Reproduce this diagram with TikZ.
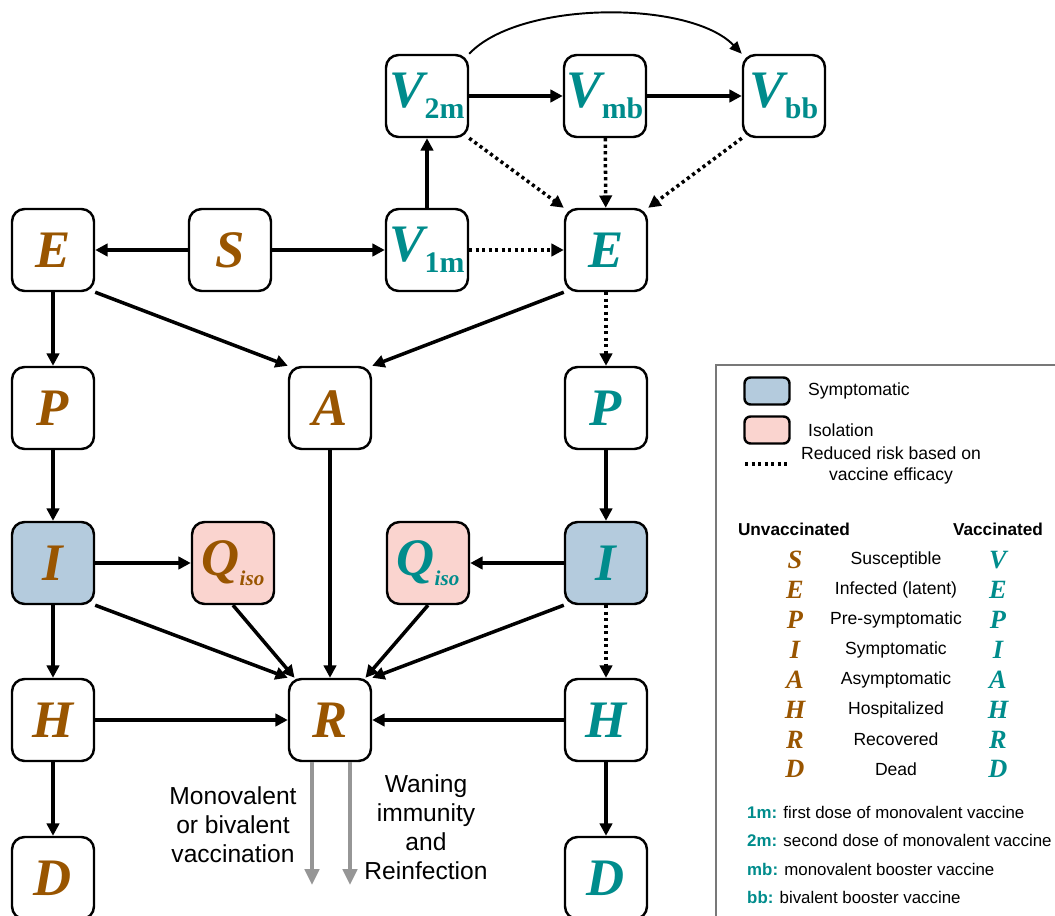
\documentclass[tikz,border=0pt]{standalone}
\usepackage{fontspec}
\setmainfont{Liberation Serif}
\newfontfamily\lsans{Liberation Sans}
\usetikzlibrary{arrows.meta}
\definecolor{unvbrown}{RGB}{153,85,0}
\definecolor{vacteal}{RGB}{0,140,140}
\definecolor{symblue}{RGB}{180,203,221}
\definecolor{isopink}{RGB}{250,212,207}
\definecolor{framegray}{RGB}{120,120,120}
\definecolor{flowgray}{RGB}{150,150,150}
\newcommand{\cmpfont}{\fontsize{30}{30}\selectfont\bfseries\itshape}
\newcommand{\sub}[1]{\raisebox{-0.45ex}{\fontsize{17}{17}\selectfont\upshape #1}}
\newcommand{\isosub}{\raisebox{-0.4ex}{\fontsize{12}{12}\selectfont\itshape iso}}
\tikzset{
  comp/.style={draw,line width=1.4pt,rounded corners=0.25cm,minimum size=1.64cm,
    inner sep=0pt,fill=white,font=\cmpfont},
  unv/.style={comp,text=unvbrown},
  vac/.style={comp,text=vacteal},
  sym/.style={fill=symblue},
  iso/.style={fill=isopink},
  flow/.style={-{Triangle[length=7pt,width=7pt]},line width=2pt},
  eff/.style={flow,dash pattern=on 1.8pt off 1.9pt},
  note/.style={font=\lsans\fontsize{14}{16.5}\selectfont,align=center},
  key/.style={font=\lsans\fontsize{10}{12}\selectfont},
  foot/.style={font=\lsans\fontsize{9.6}{12}\selectfont,anchor=west},
}
\begin{document}
\begin{tikzpicture}[x=0.02cm,y=-0.02cm]
\useasboundingbox (0,0) rectangle (1055,916);
% vaccinated doses
\node[vac](V2m) at (427,96) {V\sub{2m}};
\node[vac](Vmb) at (605,96) {V\sub{mb}};
\node[vac](Vbb) at (784,96) {V\sub{bb}};
% second row
\node[unv](El) at (53,250) {E};
\node[unv](S) at (230,250) {S};
\node[vac](V1m) at (427,250) {V\sub{1m}};
\node[vac](Ev) at (606,250) {E};
% third row
\node[unv](Pl) at (53,408) {P};
\node[unv](A) at (330,408) {A};
\node[vac](Pv) at (606,408) {P};
% fourth row
\node[unv,sym](Il) at (53,563) {I};
\node[unv,iso](Ql) at (233,563) {Q\isosub};
\node[vac,iso](Qv) at (428,563) {Q\isosub};
\node[vac,sym](Iv) at (606,563) {I};
% fifth row
\node[unv](Hl) at (53,720) {H};
\node[unv](R) at (330,720) {R};
\node[vac](Hv) at (606,720) {H};
% last row
\node[unv](Dl) at (53,878) {D};
\node[vac](Dv) at (606,878) {D};

\draw[flow](S)--(El);
\draw[flow](S)--(V1m);
\draw[flow](V1m)--(V2m);
\draw[flow](V2m)--(Vmb);
\draw[flow](Vmb)--(Vbb);
\draw[-{Triangle[length=7pt,width=6pt]},line width=1.1pt](V2m.north east) .. controls (520,0) and (690,0) .. (Vbb.north west);
\draw[eff](V1m)--(Ev);
\draw[eff](V2m.south east)--(Ev.north west);
\draw[eff](Vmb)--(Ev);
\draw[eff](Vbb.south west)--(Ev.north east);
\draw[flow](El)--(Pl);
\draw[flow](El.south east)--(A.north west);
\draw[flow](Ev.south west)--(A.north east);
\draw[eff](Ev)--(Pv);
\draw[flow](Pl)--(Il);
\draw[flow](Pv)--(Iv);
\draw[flow](A)--(R);
\draw[flow](Il)--(Ql);
\draw[flow](Iv)--(Qv);
\draw[flow](Il.south east)--(R.north west);
\draw[flow](Ql.south)--(R.130);
\draw[flow](Qv.south)--(R.50);
\draw[flow](Iv.south west)--(R.north east);
\draw[flow](Il)--(Hl);
\draw[eff](Iv)--(Hv);
\draw[flow](Hl)--(R);
\draw[flow](Hv)--(R);
\draw[flow](Hl)--(Dl);
\draw[flow](Hv)--(Dv);

% leaving R
\coordinate(g1) at (312,885);
\coordinate(g2) at (350,885);
\draw[-{Triangle[length=9pt,width=8pt]},line width=2.6pt,flowgray](R.south -| g1)--(g1);
\draw[-{Triangle[length=9pt,width=8pt]},line width=2.6pt,flowgray](R.south -| g2)--(g2);
\node[note](vacc) at (233,825) {Monovalent\\or bivalent\\vaccination};
\node[note](wane) at (426,827) {Waning\\immunity\\and\\Reinfection};

% legend
\draw[framegray,line width=0.8pt](1070,365)--(716,365)--(716,930);
\node[draw,line width=1.4pt,rounded corners=0.12cm,fill=symblue,minimum width=0.9cm,minimum height=0.54cm](ksym) at (767,391) {};
\node[key,anchor=west](ksymt) at (802,391) {Symptomatic};
\node[draw,line width=1.4pt,rounded corners=0.12cm,fill=isopink,minimum width=0.9cm,minimum height=0.54cm](kiso) at (767,430) {};
\node[key,anchor=west](kisot) at (802,430) {Isolation};
\coordinate(d1) at (745,464);
\coordinate(d2) at (788,464);
\draw[line width=2pt,dash pattern=on 1.8pt off 1.9pt](d1)--(d2);
\node[key,align=center](kefft) at (891,465) {Reduced risk based on\\vaccine efficacy};
\node[key,font=\lsans\bfseries\fontsize{9.8}{12}\selectfont](kunv) at (794,529) {Unvaccinated};
\node[key,font=\lsans\bfseries\fontsize{9.8}{12}\selectfont](kvac) at (998,529) {Vaccinated};
\foreach \ul/\vl/\desc [count=\k] in {S/V/Susceptible,E/E/Infected (latent),P/P/Pre-symptomatic,I/I/Symptomatic,A/A/Asymptomatic,H/H/Hospitalized,R/R/Recovered,D/D/Dead}{
  \node[text=unvbrown,font=\fontsize{15}{15}\selectfont\bfseries\itshape](ku\k) at (795,{560+(\k-1)*29.9}) {\ul};
  \node[key](kd\k) at (896,{560+(\k-1)*29.9}) {\desc};
  \node[text=vacteal,font=\fontsize{15}{15}\selectfont\bfseries\itshape](kv\k) at (998,{560+(\k-1)*29.9}) {\vl};
}
\node[foot](f1) at (741,812) {\textcolor{vacteal}{\bfseries 1m:} first dose of monovalent vaccine};
\node[foot](f2) at (741,840) {\textcolor{vacteal}{\bfseries 2m:} second dose of monovalent vaccine};
\node[foot](f3) at (741,869) {\textcolor{vacteal}{\bfseries mb:} monovalent booster vaccine};
\node[foot](f4) at (741,897) {\textcolor{vacteal}{\bfseries bb:} bivalent booster vaccine};
\end{tikzpicture}
\end{document}
